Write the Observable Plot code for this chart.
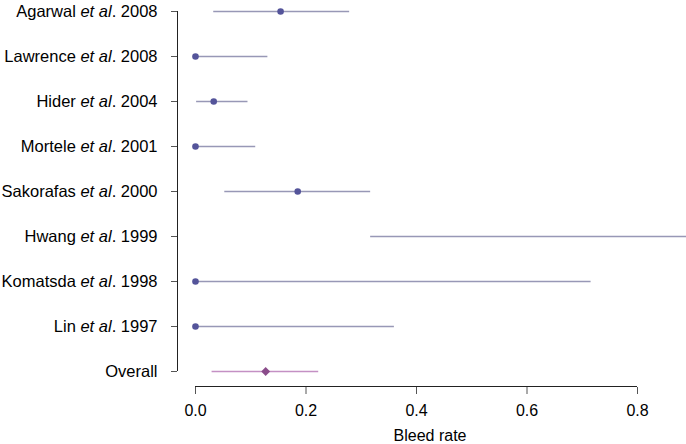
<!DOCTYPE html>
<html><head><meta charset="utf-8">
<script src="https://cdn.jsdelivr.net/npm/d3@7"></script>
<script src="https://cdn.jsdelivr.net/npm/@observablehq/plot@0.6"></script>
<style>body{margin:0;background:#fff;overflow:hidden}</style>
</head><body><div id="chart"></div>
<script>
// Study data (bleed rate estimates with confidence intervals)
const authors  = ["Agarwal", "Lawrence", "Hider", "Mortele", "Sakorafas", "Hwang", "Komatsda", "Lin"];
const years    = [2008, 2008, 2004, 2001, 2000, 1999, 1998, 1997];
const estimate = [0.154, 0.000, 0.033, 0.000, 0.185, 1.000, 0.000, 0.000];
const lower    = [0.033, 0.000, 0.002, 0.000, 0.053, 0.317, 0.000, 0.000];
const upper    = [0.279, 0.131, 0.095, 0.109, 0.317, 1.000, 0.716, 0.360];
const overallLabel = "Overall";
const overallEstimate = 0.127;
const overallLower = 0.030;
const overallUpper = 0.223;
const xTicks = [0, 0.2, 0.4, 0.6, 0.8];
const xTitle = "Bleed rate";

const rows = authors.map((a, i) => ({
  label: `${a} et al. ${years[i]}`, est: estimate[i], lo: lower[i], hi: upper[i]
}));
const overall = {label: overallLabel, est: overallEstimate, lo: overallLower, hi: overallUpper};
const labels = [...rows.map(r => r.label), overallLabel];

const W = 686, H = 444, ML = 195, MR = 0, MT = 9, MB = 72;
const pxPerUnit = 552.5;
const xMax = (W - ML - MR) / pxPerUnit;

const chart = Plot.plot({
  width: W, height: H,
  marginLeft: ML, marginRight: MR, marginTop: MT, marginBottom: MB,
  style: {fontFamily: "'Liberation Sans', Arial, Helvetica, sans-serif", fontSize: "16px", color: "#000", background: "#fff", overflow: "hidden"},
  x: {domain: [0, xMax]},
  y: {type: "point", domain: labels, padding: 0},
  marks: [
    Plot.ruleX([0], {y1: () => labels[0], y2: () => labels[labels.length - 1], dx: -18, stroke: "#222"}),
    Plot.axisY({dx: -18, tickSize: 6, tickPadding: 14, label: null, stroke: "#555", fill: "#000", fontSize: 16.5}),
    Plot.ruleY([labels[labels.length - 1]], {x1: xTicks[0], x2: xTicks[xTicks.length - 1], dy: 15, stroke: "#222"}),
    Plot.axisX({ticks: xTicks, tickFormat: d3.format(".1f"), dy: 15, tickSize: 7, tickPadding: 10, label: null, stroke: "#555", fill: "#000", fontSize: 16}),
    Plot.text([xTitle], {frameAnchor: "bottom", lineAnchor: "bottom", dy: 68, dx: -11, fill: "#000", fontSize: 16}),
    Plot.ruleY(rows, {y: "label", x1: "lo", x2: "hi", stroke: "#9898b6", strokeWidth: 1.6}),
    Plot.dot(rows, {y: "label", x: "est", r: 3.3, fill: "#54549a"}),
    Plot.ruleY([overall], {y: "label", x1: "lo", x2: "hi", stroke: "#c490c4", strokeWidth: 1.6}),
    Plot.dot([overall], {y: "label", x: "est", symbol: "diamond2", r: 4, fill: "#8a4c8a"})
  ]
});

// italicise "et al." in the study labels
d3.select(chart).selectAll("text").each(function() {
  const t = this.textContent;
  const m = t.match(/^(.*?) (et al)(\.) (.*)$/);
  if (!m) return;
  const sel = d3.select(this);
  sel.text(null);
  sel.append("tspan").text(m[1] + " ");
  sel.append("tspan").attr("font-style", "italic").text(m[2]);
  sel.append("tspan").text(m[3] + " " + m[4]);
});

document.getElementById("chart").appendChild(chart);
</script>
</body></html>
